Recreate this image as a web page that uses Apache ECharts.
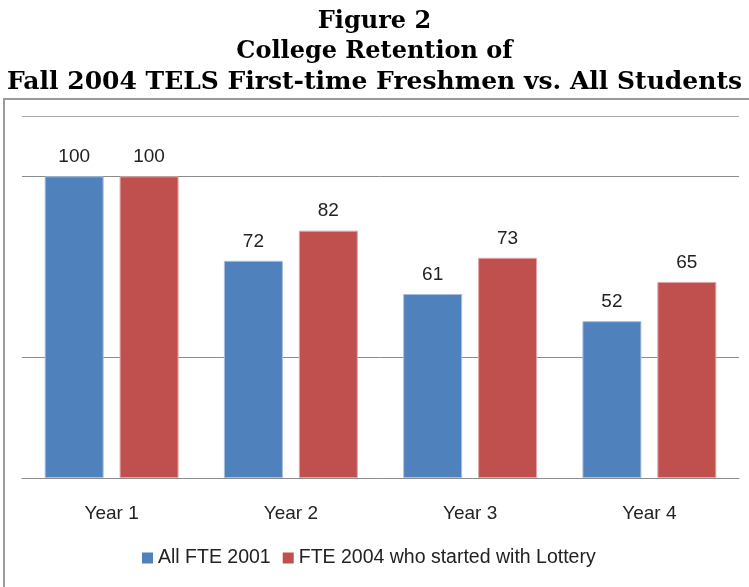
<!DOCTYPE html>
<html>
<head>
<meta charset="utf-8">
<script src="https://cdn.jsdelivr.net/npm/echarts@6/dist/echarts.min.js"></script>
<style>
  html, body { margin: 0; padding: 0; background: #fff; }
  #main { width: 749px; height: 587px; }
</style>
</head>
<body>
<div id="main"></div>
<script>
// data
var categories = ['Year 1', 'Year 2', 'Year 3', 'Year 4'];
var allFte2001 = [100, 72, 61, 52];
var fte2004Lottery = [100, 82, 73, 65];
var seriesNames = ['All FTE 2001', 'FTE 2004 who started with Lottery'];

var chart = echarts.init(document.getElementById('main'));
var labelFont = 'Liberation Sans';

// only some gridlines survive in the original picture (0, 40, 100, 120)
var none = 'rgba(0,0,0,0)';
var gridColors = ['#8c8c8c', none, '#8c8c8c', none, none, '#8c8c8c', '#a8a8a8'];

var titleFont = { fontFamily: 'DejaVu Serif', fontWeight: 'bold', color: '#000', lineHeight: 30 };

var option = {
  animation: false,
  title: {
    text: '{a|Figure 2}\n{a|College Retention of}\n{b|Fall 2004 TELS First-time Freshmen vs. All Students}',
    left: 'center',
    top: 7,
    padding: 0,
    textStyle: {
      fontFamily: 'DejaVu Serif',
      fontWeight: 'bold',
      fontSize: 24,
      lineHeight: 30,
      color: '#000',
      rich: {
        a: Object.assign({ fontSize: 24 }, titleFont),
        b: Object.assign({ fontSize: 25 }, titleFont)
      }
    }
  },
  graphic: [{
    type: 'rect',
    shape: { x: 4, y: 99, width: 760, height: 500 },
    style: { fill: 'none', stroke: '#9a9a9a', lineWidth: 2 },
    z: -1
  }],
  legend: {
    data: seriesNames,
    bottom: 14,
    left: 137,
    icon: 'rect',
    itemWidth: 11,
    itemHeight: 11,
    itemGap: 12,
    itemStyle: { borderWidth: 0 },
    textStyle: { fontFamily: labelFont, fontSize: 19.5, color: '#222' }
  },
  grid: { left: 22, right: 10, top: 116, bottom: 109 },
  xAxis: {
    type: 'category',
    data: categories,
    axisLine: { show: true, lineStyle: { color: '#8c8c8c' } },
    axisTick: { show: false },
    axisLabel: { fontFamily: labelFont, fontSize: 19, color: '#222', margin: 26 }
  },
  yAxis: {
    type: 'value',
    min: 0,
    max: 120,
    interval: 20,
    axisLine: { show: false },
    axisTick: { show: false },
    axisLabel: { show: false },
    splitLine: { lineStyle: { color: gridColors, width: 1 } }
  },
  series: [
    {
      name: seriesNames[0],
      type: 'bar',
      data: allFte2001,
      barWidth: 59,
      barGap: '27%',
      itemStyle: { color: '#4f81bd', borderColor: '#a9c0e0', borderWidth: 1 },
      label: {
        show: true, position: 'top', distance: 10,
        fontFamily: labelFont, fontSize: 19, color: '#222'
      }
    },
    {
      name: seriesNames[1],
      type: 'bar',
      data: fte2004Lottery,
      barWidth: 59,
      itemStyle: { color: '#c0504d', borderColor: '#e0a9a7', borderWidth: 1 },
      label: {
        show: true, position: 'top', distance: 10,
        fontFamily: labelFont, fontSize: 19, color: '#222'
      }
    }
  ]
};

chart.setOption(option);
</script>
</body>
</html>
